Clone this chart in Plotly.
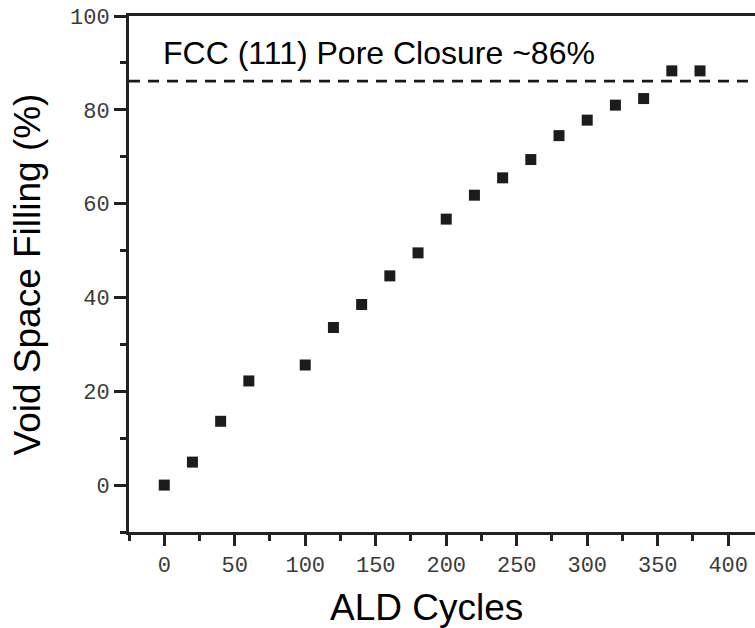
import plotly.graph_objects as go

cycles = [0, 20, 40, 60, 100, 120, 140, 160, 180, 200, 220, 240, 260, 280, 300, 320, 340, 360, 380]
filling = [0.0, 4.9, 13.6, 22.2, 25.6, 33.6, 38.5, 44.6, 49.5, 56.7, 61.8, 65.5, 69.4, 74.5, 77.8, 81.0, 82.4, 88.3, 88.3]
closure_level = 86.1
x_ticks = [0, 50, 100, 150, 200, 250, 300, 350, 400]
y_ticks = [0, 20, 40, 60, 80, 100]

W, H = 755, 628
ml, mr, mt, mb = 129, 0, 16, 96
pw, ph = W - ml - mr, H - mt - mb

axis_col = "#222222"
tick_font = dict(family="Liberation Mono, Courier New, monospace", size=22, color="#3a3a3a")
title_font = dict(family="Liberation Sans, Arial, sans-serif", size=37, color="#000000")

fig = go.Figure()
fig.add_trace(go.Scatter(
    x=cycles, y=filling, mode="markers",
    marker=dict(symbol="square", size=11, color="#1c1c1c", line=dict(width=0)),
    showlegend=False, hoverinfo="x+y",
))

fig.add_shape(type="line", xref="paper", yref="y", x0=0, x1=1, y0=closure_level, y1=closure_level,
              line=dict(color="#1a1a1a", width=2.8, dash="11px,8px"), layer="above")

fig.add_annotation(text="FCC (111) Pore Closure ~86%", xref="x", yref="y", x=-2.1, y=92.2,
                   xanchor="left", yanchor="middle", showarrow=False,
                   font=dict(family="Liberation Sans, Arial, sans-serif", size=32, color="#000000"))

fig.add_annotation(text="ALD Cycles", xref="paper", yref="paper",
                   x=(426 - ml) / pw, y=(532 - 607) / ph, xanchor="center", yanchor="middle",
                   showarrow=False, font=title_font)
fig.add_annotation(text="Void Space Filling (%)", xref="paper", yref="paper",
                   x=(26.5 - ml) / pw, y=(532 - 275) / ph, xanchor="center", yanchor="middle",
                   textangle=-90, showarrow=False, font=title_font)

fig.update_xaxes(
    range=[-25, 419], tickvals=x_ticks, ticktext=[str(v) for v in x_ticks],
    ticks="outside", ticklen=11, tickwidth=3, tickcolor=axis_col,
    showline=True, linewidth=3, linecolor=axis_col, mirror=True,
    showgrid=False, zeroline=False, tickfont=tick_font,
    minor=dict(dtick=25, tick0=0, ticks="outside", ticklen=6, tickwidth=3, tickcolor=axis_col, showgrid=False),
)
fig.update_yaxes(
    range=[-10, 100], tickvals=y_ticks, ticktext=[str(v) for v in y_ticks],
    ticks="outside", ticklen=12, tickwidth=3, tickcolor=axis_col,
    showline=True, linewidth=3, linecolor=axis_col, mirror=False,
    showgrid=False, zeroline=False, tickfont=tick_font,
    minor=dict(dtick=10, tick0=0, ticks="outside", ticklen=6, tickwidth=3, tickcolor=axis_col, showgrid=False),
)

fig.update_layout(
    width=W, height=H,
    margin=dict(l=ml, r=mr, t=mt, b=mb, pad=0),
    paper_bgcolor="white", plot_bgcolor="white",
    showlegend=False,
)

fig.write_html("out.html")
